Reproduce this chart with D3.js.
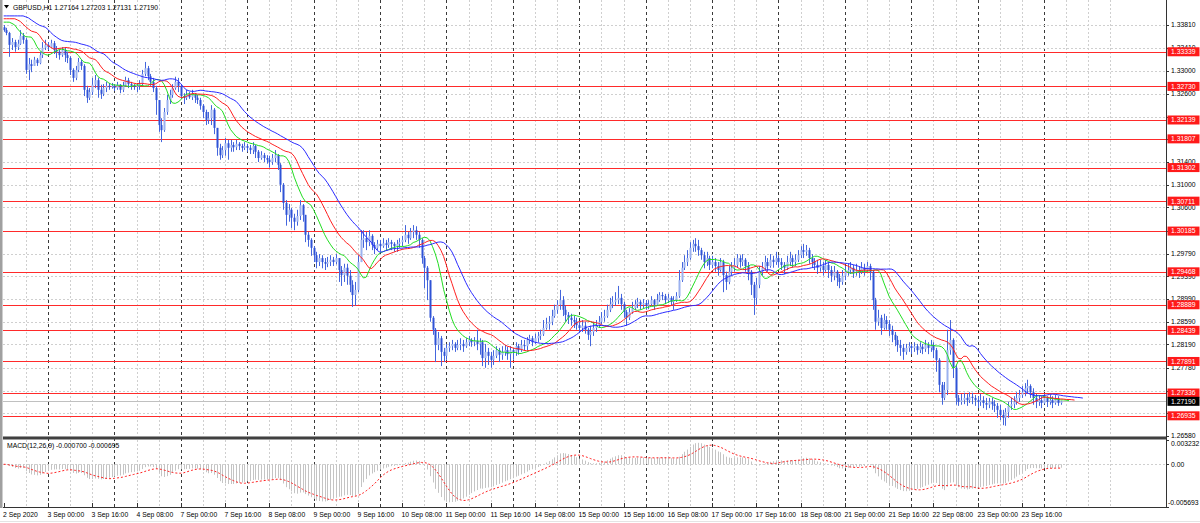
<!DOCTYPE html>
<html><head><meta charset="utf-8">
<script src="https://cdn.jsdelivr.net/npm/d3@7"></script>
<style>
html,body{margin:0;padding:0;background:#fff;}
svg{display:block;font-family:"Liberation Sans",Arial,sans-serif;}
</style></head><body>
<svg id="c" width="1200" height="523"></svg>
<script>
// ---------------- DATA ----------------
const symbol = "GBPUSD,H1";
const headerOHLC = ["1.27164", "1.27203", "1.27131", "1.27190"];
const firstOpen = 1.3377;
const close = [
1.3372,1.3367,1.3346,1.3351,1.3342,1.3348,1.3362,1.3355,1.3302,1.3312,
1.3309,1.3320,1.3314,1.3328,1.3341,1.3346,1.3342,1.3349,1.3337,1.3334,
1.3328,1.3337,1.3328,1.3323,1.3302,1.3288,1.3302,1.3316,1.3309,1.3267,
1.3253,1.3263,1.3276,1.3284,1.3267,1.3260,1.3270,1.3274,1.3272,1.3274,
1.3270,1.3276,1.3267,1.3274,1.3284,1.3277,1.3274,1.3272,1.3274,1.3277,
1.3295,1.3305,1.3291,1.3281,1.3270,1.3249,1.3205,1.3196,1.3228,1.3249,
1.3258,1.3270,1.3281,1.3274,1.3256,1.3253,1.3258,1.3254,1.3260,1.3253,
1.3249,1.3239,1.3228,1.3214,1.3217,1.3232,1.3200,1.3165,1.3152,1.3161,
1.3173,1.3165,1.3170,1.3166,1.3172,1.3168,1.3165,1.3168,1.3165,1.3161,
1.3168,1.3158,1.3147,1.3152,1.3147,1.3144,1.3140,1.3147,1.3152,1.3135,
1.3100,1.3068,1.3047,1.3056,1.3042,1.3035,1.3045,1.3064,1.3047,1.3012,
1.3003,1.2989,1.2976,1.2964,1.2971,1.2964,1.2961,1.2964,1.2968,1.2964,
1.2971,1.2950,1.2941,1.2954,1.2940,1.2924,1.2906,1.2915,1.2964,1.3003,
1.3006,1.2999,1.3010,1.2994,1.2989,1.2996,1.2992,1.2997,1.2994,1.2999,
1.2996,1.2992,1.2996,1.2999,1.3003,1.3012,1.3006,1.3017,1.3020,1.3012,
1.3003,1.2971,1.2954,1.2932,1.2866,1.2845,1.2818,1.2830,1.2806,1.2799,
1.2813,1.2816,1.2820,1.2813,1.2818,1.2820,1.2816,1.2823,1.2827,1.2823,
1.2825,1.2820,1.2823,1.2795,1.2806,1.2799,1.2792,1.2799,1.2809,1.2801,
1.2806,1.2809,1.2802,1.2809,1.2806,1.2816,1.2809,1.2818,1.2816,1.2827,
1.2830,1.2823,1.2830,1.2834,1.2837,1.2848,1.2855,1.2859,1.2869,1.2880,
1.2889,1.2897,1.2880,1.2871,1.2866,1.2862,1.2859,1.2853,1.2848,1.2852,
1.2845,1.2836,1.2841,1.2848,1.2853,1.2859,1.2866,1.2869,1.2880,1.2890,
1.2894,1.2897,1.2901,1.2890,1.2876,1.2866,1.2876,1.2883,1.2890,1.2894,
1.2889,1.2892,1.2887,1.2890,1.2897,1.2889,1.2897,1.2906,1.2904,1.2897,
1.2901,1.2894,1.2897,1.2904,1.2932,1.2954,1.2964,1.2971,1.2989,1.2996,
1.2992,1.2985,1.2976,1.2964,1.2971,1.2959,1.2964,1.2957,1.2950,1.2964,
1.2941,1.2929,1.2947,1.2954,1.2959,1.2971,1.2964,1.2968,1.2957,1.2947,
1.2924,1.2901,1.2924,1.2947,1.2954,1.2964,1.2957,1.2968,1.2964,1.2971,
1.2964,1.2959,1.2954,1.2964,1.2971,1.2964,1.2968,1.2976,1.2985,1.2982,
1.2985,1.2971,1.2964,1.2959,1.2954,1.2957,1.2950,1.2959,1.2950,1.2940,
1.2947,1.2936,1.2929,1.2940,1.2947,1.2950,1.2954,1.2947,1.2950,1.2947,
1.2954,1.2950,1.2957,1.2947,1.2897,1.2859,1.2866,1.2848,1.2862,1.2855,
1.2845,1.2836,1.2827,1.2818,1.2813,1.2806,1.2813,1.2816,1.2813,1.2816,
1.2809,1.2815,1.2811,1.2818,1.2813,1.2818,1.2809,1.2792,1.2748,1.2725,
1.2739,1.2809,1.2827,1.2778,1.2725,1.2718,1.2721,1.2725,1.2721,1.2727,
1.2725,1.2721,1.2718,1.2721,1.2716,1.2713,1.2718,1.2714,1.2711,1.2704,
1.2695,1.2690,1.2700,1.2711,1.2714,1.2718,1.2725,1.2730,1.2735,1.2742,
1.2746,1.2735,1.2725,1.2718,1.2721,1.2716,1.2725,1.2718,1.2721,1.2716,
1.2723,1.2716,1.2719
];
const high = [
1.3381,1.3376,1.3369,1.3358,1.3355,1.3355,1.3372,1.3367,1.3358,1.3323,
1.3320,1.3325,1.3323,1.3334,1.3351,1.3355,1.3351,1.3355,1.3353,1.3344,
1.3337,1.3342,1.3341,1.3334,1.3326,1.3305,1.3309,1.3323,1.3320,1.3312,
1.3274,1.3270,1.3288,1.3293,1.3288,1.3276,1.3277,1.3281,1.3279,1.3279,
1.3277,1.3281,1.3277,1.3281,1.3290,1.3288,1.3281,1.3277,1.3279,1.3284,
1.3302,1.3316,1.3309,1.3295,1.3288,1.3274,1.3249,1.3217,1.3235,1.3258,
1.3267,1.3277,1.3290,1.3288,1.3277,1.3261,1.3267,1.3263,1.3267,1.3261,
1.3258,1.3253,1.3242,1.3232,1.3228,1.3240,1.3235,1.3200,1.3172,1.3168,
1.3182,1.3179,1.3179,1.3175,1.3179,1.3175,1.3172,1.3175,1.3172,1.3170,
1.3175,1.3170,1.3161,1.3159,1.3156,1.3152,1.3151,1.3154,1.3161,1.3154,
1.3138,1.3103,1.3073,1.3066,1.3059,1.3049,1.3056,1.3073,1.3066,1.3047,
1.3017,1.3006,1.2992,1.2982,1.2978,1.2976,1.2971,1.2973,1.2976,1.2973,
1.2978,1.2971,1.2957,1.2961,1.2961,1.2950,1.2932,1.2929,1.2976,1.3020,
1.3020,1.3017,1.3020,1.3013,1.2999,1.3003,1.3003,1.3006,1.3003,1.3006,
1.3003,1.2999,1.3003,1.3006,1.3010,1.3029,1.3017,1.3024,1.3029,1.3027,
1.3017,1.3006,1.2975,1.2957,1.2904,1.2869,1.2848,1.2841,1.2834,1.2813,
1.2820,1.2823,1.2827,1.2823,1.2827,1.2830,1.2827,1.2830,1.2834,1.2830,
1.2832,1.2845,1.2830,1.2827,1.2820,1.2813,1.2806,1.2809,1.2816,1.2813,
1.2816,1.2818,1.2815,1.2816,1.2813,1.2823,1.2820,1.2827,1.2827,1.2832,
1.2836,1.2834,1.2838,1.2841,1.2845,1.2862,1.2866,1.2869,1.2880,1.2889,
1.2897,1.2915,1.2904,1.2887,1.2876,1.2873,1.2869,1.2866,1.2859,1.2862,
1.2859,1.2848,1.2852,1.2859,1.2862,1.2869,1.2876,1.2880,1.2889,1.2901,
1.2904,1.2911,1.2922,1.2908,1.2894,1.2880,1.2883,1.2894,1.2897,1.2901,
1.2897,1.2899,1.2897,1.2897,1.2904,1.2899,1.2908,1.2911,1.2911,1.2908,
1.2908,1.2904,1.2904,1.2911,1.2950,1.2964,1.2976,1.2985,1.2999,1.3003,
1.3006,1.3003,1.2989,1.2982,1.2982,1.2975,1.2975,1.2971,1.2964,1.2971,
1.2968,1.2947,1.2957,1.2964,1.2971,1.2978,1.2976,1.2978,1.2971,1.2964,
1.2950,1.2929,1.2936,1.2957,1.2964,1.2975,1.2971,1.2978,1.2975,1.2982,
1.2976,1.2971,1.2964,1.2975,1.2982,1.2976,1.2978,1.2985,1.2992,1.2996,
1.2994,1.2989,1.2978,1.2971,1.2968,1.2968,1.2964,1.2968,1.2964,1.2957,
1.2957,1.2950,1.2943,1.2950,1.2957,1.2961,1.2964,1.2959,1.2961,1.2957,
1.2964,1.2961,1.2964,1.2961,1.2950,1.2901,1.2880,1.2871,1.2873,1.2869,
1.2862,1.2852,1.2841,1.2834,1.2827,1.2820,1.2820,1.2823,1.2820,1.2823,
1.2820,1.2823,1.2820,1.2827,1.2823,1.2827,1.2823,1.2813,1.2795,1.2753,
1.2753,1.2845,1.2862,1.2830,1.2783,1.2730,1.2732,1.2734,1.2732,1.2735,
1.2734,1.2730,1.2728,1.2732,1.2728,1.2725,1.2725,1.2725,1.2721,1.2716,
1.2713,1.2704,1.2707,1.2718,1.2725,1.2728,1.2735,1.2739,1.2746,1.2751,
1.2757,1.2749,1.2742,1.2732,1.2730,1.2728,1.2732,1.2728,1.2730,1.2728,
1.2730,1.2728,1.2720
];
const low = [
1.3369,1.3363,1.3325,1.3337,1.3334,1.3337,1.3346,1.3348,1.3295,1.3284,
1.3298,1.3309,1.3309,1.3312,1.3323,1.3337,1.3337,1.3341,1.3330,1.3323,
1.3320,1.3325,1.3316,1.3314,1.3293,1.3281,1.3284,1.3298,1.3302,1.3256,
1.3244,1.3249,1.3258,1.3270,1.3253,1.3251,1.3256,1.3263,1.3267,1.3269,
1.3265,1.3267,1.3261,1.3263,1.3272,1.3270,1.3267,1.3267,1.3263,1.3267,
1.3274,1.3291,1.3284,1.3274,1.3263,1.3223,1.3193,1.3175,1.3193,1.3223,
1.3242,1.3253,1.3267,1.3263,1.3251,1.3242,1.3249,1.3251,1.3249,1.3244,
1.3242,1.3232,1.3217,1.3205,1.3207,1.3205,1.3189,1.3151,1.3144,1.3147,
1.3151,1.3144,1.3158,1.3158,1.3161,1.3161,1.3158,1.3161,1.3158,1.3154,
1.3154,1.3147,1.3140,1.3144,1.3140,1.3137,1.3130,1.3135,1.3140,1.3126,
1.3087,1.3056,1.3028,1.3035,1.3024,1.3020,1.3028,1.3038,1.3035,1.2999,
1.2991,1.2975,1.2964,1.2953,1.2957,1.2953,1.2950,1.2955,1.2957,1.2957,
1.2960,1.2929,1.2922,1.2929,1.2924,1.2911,1.2885,1.2887,1.2911,1.2964,
1.2989,1.2985,1.2992,1.2985,1.2978,1.2985,1.2982,1.2989,1.2985,1.2989,
1.2985,1.2982,1.2982,1.2989,1.2992,1.2999,1.2996,1.3003,1.3006,1.3003,
1.2989,1.2961,1.2918,1.2897,1.2859,1.2836,1.2788,1.2809,1.2781,1.2788,
1.2792,1.2806,1.2809,1.2806,1.2809,1.2809,1.2806,1.2813,1.2816,1.2815,
1.2816,1.2809,1.2801,1.2781,1.2778,1.2783,1.2778,1.2783,1.2795,1.2788,
1.2792,1.2799,1.2792,1.2778,1.2792,1.2799,1.2801,1.2806,1.2809,1.2809,
1.2820,1.2816,1.2820,1.2823,1.2827,1.2834,1.2845,1.2845,1.2853,1.2866,
1.2873,1.2880,1.2869,1.2859,1.2855,1.2852,1.2848,1.2845,1.2839,1.2841,
1.2838,1.2827,1.2816,1.2834,1.2841,1.2848,1.2855,1.2859,1.2866,1.2876,
1.2883,1.2887,1.2890,1.2880,1.2866,1.2852,1.2862,1.2873,1.2880,1.2883,
1.2880,1.2883,1.2880,1.2881,1.2887,1.2880,1.2887,1.2894,1.2897,1.2890,
1.2892,1.2887,1.2880,1.2894,1.2901,1.2929,1.2950,1.2957,1.2968,1.2982,
1.2982,1.2975,1.2968,1.2953,1.2957,1.2950,1.2953,1.2947,1.2940,1.2947,
1.2911,1.2915,1.2925,1.2940,1.2947,1.2954,1.2954,1.2957,1.2947,1.2932,
1.2906,1.2871,1.2889,1.2918,1.2940,1.2950,1.2947,1.2954,1.2954,1.2959,
1.2954,1.2950,1.2943,1.2950,1.2957,1.2954,1.2957,1.2964,1.2971,1.2971,
1.2975,1.2961,1.2954,1.2950,1.2943,1.2947,1.2940,1.2947,1.2936,1.2929,
1.2932,1.2922,1.2918,1.2924,1.2932,1.2940,1.2943,1.2936,1.2940,1.2936,
1.2943,1.2940,1.2947,1.2932,1.2880,1.2845,1.2852,1.2836,1.2845,1.2845,
1.2834,1.2823,1.2816,1.2806,1.2799,1.2792,1.2801,1.2806,1.2802,1.2806,
1.2801,1.2804,1.2802,1.2806,1.2802,1.2806,1.2795,1.2771,1.2735,1.2713,
1.2721,1.2730,1.2801,1.2760,1.2713,1.2711,1.2713,1.2714,1.2711,1.2716,
1.2714,1.2711,1.2707,1.2711,1.2707,1.2704,1.2707,1.2704,1.2700,1.2690,
1.2686,1.2677,1.2676,1.2690,1.2704,1.2707,1.2713,1.2718,1.2725,1.2728,
1.2732,1.2725,1.2713,1.2707,1.2711,1.2707,1.2714,1.2709,1.2713,1.2707,
1.2713,1.2711,1.2713
];
const priceTicks = ["1.33810","1.33410","1.33000","1.32600","1.32190","1.31800","1.31400","1.31000","1.30600","1.30190","1.29790","1.29390","1.28990","1.28590","1.28190","1.27780","1.27380","1.26980","1.26580"];
const levels = [1.33339, 1.32730, 1.32139, 1.31807, 1.31302, 1.30711, 1.30185, 1.29468, 1.28889, 1.28439, 1.27891, 1.27336, 1.26935];
const levelLabels = ["1.33339","1.32730","1.32139","1.31807","1.31302","1.30711","1.30185","1.29468","1.28889","1.28439","1.27891","1.27336","1.26935"];
const currentPrice = 1.27190;
const currentLabel = "1.27190";
const timeLabels = ["2 Sep 2020","3 Sep 00:00","3 Sep 16:00","4 Sep 08:00","7 Sep 00:00","7 Sep 16:00","8 Sep 08:00","9 Sep 00:00","9 Sep 16:00","10 Sep 08:00","11 Sep 00:00","11 Sep 16:00","14 Sep 08:00","15 Sep 00:00","15 Sep 16:00","16 Sep 08:00","17 Sep 00:00","17 Sep 16:00","18 Sep 08:00","21 Sep 00:00","21 Sep 16:00","22 Sep 08:00","23 Sep 00:00","23 Sep 16:00"];
const timeLabelBars = [0,16,32,48,64,80,96,112,128,144,160,176,192,208,224,240,256,272,288,304,320,336,352,368];
const daySeparatorBars = [16,40,64,88,112,136,160,184,208,232,256,280,304,328,352,376];
const macdTickLabels = ["0.003232","0.00","-0.005693"];
const macdTickValues = [0.003232, 0, -0.005693];
const macdTitle = "MACD(12,26,9) -0.000700 -0.000695";
// Alligator start values read at the left edge (jaw, teeth, lips)
const alligatorSeed = [1.3397, 1.3392, 1.3386];
const alligatorPeriods = [13, 8, 5];
const alligatorShifts = [8, 5, 3];
const alligatorColors = ["#2b2bff", "#ff2020", "#22dd22"];

// ---------------- LAYOUT ----------------
const svg = d3.select("#c");
const N = Math.min(close.length, high.length, low.length);
const plotL = 3, plotR = 1166, priceBot = 436, macdTop = 440, macdBot = 507;
const x = d3.scaleLinear().domain([0, 382]).range([3.7, 3.7 + 382 * 2.767]);
const y = d3.scaleLinear().domain([1.26580, 1.33810]).range([436, 25]);
const ym = d3.scaleLinear().domain([-0.005693, 0.003232]).range([macdBot, macdTop]);

const bars = [];
for (let i = 0; i < N; i++) {
  const o = i === 0 ? firstOpen : close[i - 1];
  const c = close[i];
  bars.push({i, o, c, h: Math.max(high[i], o, c), l: Math.min(low[i], o, c)});
}

const defs = svg.append("defs");
defs.append("clipPath").attr("id", "cp").append("rect").attr("x", plotL).attr("y", 0).attr("width", plotR - plotL).attr("height", priceBot);
defs.append("clipPath").attr("id", "cm").append("rect").attr("x", plotL).attr("y", macdTop).attr("width", plotR - plotL).attr("height", macdBot - macdTop);

svg.append("rect").attr("width", 1200).attr("height", 523).attr("fill", "#fff");

// Vertical grid
const gv = svg.append("g");
for (let b = 8; b <= 400; b += 8) {
  const xx = Math.round(x(b)) + 0.5;
  if (xx > plotR) break;
  const isDay = daySeparatorBars.includes(b);
  gv.append("line").attr("x1", xx).attr("x2", xx).attr("y1", 0).attr("y2", macdBot)
    .attr("stroke", isDay ? "#3a3a3a" : "#cfcfcf").attr("stroke-width", 1)
    .attr("stroke-dasharray", isDay ? "3,3" : "2,2");
}
// Horizontal grid (price)
priceTicks.forEach(t => {
  const yy = Math.round(y(+t)) + 0.5;
  gv.append("line").attr("x1", plotL).attr("x2", plotR).attr("y1", yy).attr("y2", yy)
    .attr("stroke", "#cfcfcf").attr("stroke-dasharray", "2,2");
});
// MACD zero grid
gv.append("line").attr("x1", plotL).attr("x2", plotR).attr("y1", Math.round(ym(0)) + 0.5).attr("y2", Math.round(ym(0)) + 0.5)
  .attr("stroke", "#cfcfcf").attr("stroke-dasharray", "2,2");

// Level lines
const gl = svg.append("g");
levels.forEach(v => {
  const yy = Math.round(y(v)) + 0.5;
  gl.append("line").attr("x1", plotL).attr("x2", plotR).attr("y1", yy).attr("y2", yy)
    .attr("stroke", "#ff2a2a").attr("stroke-width", 1);
});
// current price line
{
  const yy = Math.round(y(currentPrice)) + 0.5;
  gl.append("line").attr("x1", plotL).attr("x2", plotR).attr("y1", yy).attr("y2", yy)
    .attr("stroke", "#c0c0c0").attr("stroke-width", 1);
}

// Candles
const gc = svg.append("g").attr("clip-path", "url(#cp)");
gc.selectAll("line.w").data(bars).join("line")
  .attr("x1", d => Math.round(x(d.i)) + 0.5).attr("x2", d => Math.round(x(d.i)) + 0.5)
  .attr("y1", d => y(d.h)).attr("y2", d => y(d.l))
  .attr("stroke", "#4466dd").attr("stroke-width", 1);
gc.selectAll("rect.b").data(bars).join("rect")
  .attr("x", d => Math.round(x(d.i)) - 0.5).attr("width", 2)
  .attr("y", d => y(Math.max(d.o, d.c)))
  .attr("height", d => Math.max(1, Math.abs(y(d.o) - y(d.c))))
  .attr("fill", d => d.c >= d.o ? "#9cb2ef" : "#2f53d6");

// Alligator (SMMA of median price, shifted forward)
const median = bars.map(d => (d.h + d.l) / 2);
const ga = svg.append("g").attr("clip-path", "url(#cp)");
[2, 1, 0].forEach(k => {
  const per = alligatorPeriods[k], sh = alligatorShifts[k];
  let s = alligatorSeed[k];
  const pts = [];
  for (let p = 0; p < sh; p++) pts.push([p, s]);
  median.forEach((m, i) => { s = (s * (per - 1) + m) / per; pts.push([i + sh, s]); });
  ga.append("path").attr("d", d3.line().x(d => x(d[0])).y(d => y(d[1]))(pts))
    .attr("fill", "none").attr("stroke", alligatorColors[k]).attr("stroke-width", 1);
});

// MACD (12,26,9)
const e12a = 2 / 13, e26a = 2 / 27;
let e12 = close[0], e26 = close[0];
const macd = [];
close.slice(0, N).forEach(c => { e12 += e12a * (c - e12); e26 += e26a * (c - e26); macd.push(e12 - e26); });
const signal = macd.map((v, i) => d3.mean(macd.slice(Math.max(0, i - 8), i + 1)));
const gm = svg.append("g").attr("clip-path", "url(#cm)");
gm.selectAll("line.h").data(macd).join("line")
  .attr("x1", (d, i) => Math.round(x(i)) + 0.5).attr("x2", (d, i) => Math.round(x(i)) + 0.5)
  .attr("y1", ym(0)).attr("y2", d => ym(d))
  .attr("stroke", "#c4c4c4").attr("stroke-width", 1);
gm.append("path").attr("d", d3.line().x((d, i) => x(i)).y(d => ym(d))(signal))
  .attr("fill", "none").attr("stroke", "#ff2020").attr("stroke-width", 1).attr("stroke-dasharray", "2,2");

// Panel separator
svg.append("rect").attr("x", plotL).attr("y", 436).attr("width", plotR - plotL + 1).attr("height", 1).attr("fill", "#9a9a9a");
svg.append("rect").attr("x", plotL).attr("y", 437).attr("width", plotR - plotL + 1).attr("height", 2.5).attr("fill", "#404040");

// Axes frame
svg.append("line").attr("x1", plotR + 0.5).attr("x2", plotR + 0.5).attr("y1", 0).attr("y2", macdBot + 1).attr("stroke", "#333");
svg.append("line").attr("x1", plotL).attr("x2", plotR + 1).attr("y1", macdBot + 0.5).attr("y2", macdBot + 0.5).attr("stroke", "#333");
svg.append("rect").attr("x", 0).attr("y", 0).attr("width", 2.5).attr("height", macdBot + 1).attr("fill", "#a0a0a0");
svg.append("line").attr("x1", 0).attr("x2", 1200).attr("y1", 521.5).attr("y2", 521.5).attr("stroke", "#e4e4e4");

const fs = 6.8;
// Price axis ticks (labels fully covered by a level tag are not visible in the original)
const tagged = levels.concat([currentPrice]);
const gy = svg.append("g").attr("font-size", fs);
priceTicks.forEach(t => {
  const yy = y(+t);
  gy.append("line").attr("x1", plotR).attr("x2", plotR + 3).attr("y1", Math.round(yy) + 0.5).attr("y2", Math.round(yy) + 0.5).attr("stroke", "#333");
  const covered = tagged.some(v => Math.abs(y(v) - yy) < 3);
  if (!covered) gy.append("text").attr("x", 1171).attr("y", yy + 2.4).attr("fill", "#000").text(t);
});
// Level labels
levels.forEach((v, k) => {
  const yy = y(v);
  gy.append("rect").attr("x", plotR + 1.5).attr("y", yy - 4.5).attr("width", 32).attr("height", 9).attr("fill", "#ff1a1a");
  gy.append("text").attr("x", 1171).attr("y", yy + 2.4).attr("fill", "#fff").text(levelLabels[k]);
});
{
  const yy = y(currentPrice);
  gy.append("rect").attr("x", plotR + 1.5).attr("y", yy - 4.5).attr("width", 32).attr("height", 9).attr("fill", "#000");
  gy.append("text").attr("x", 1171).attr("y", yy + 2.4).attr("fill", "#fff").text(currentLabel);
}
// MACD axis labels
macdTickLabels.forEach((t, k) => {
  const v = macdTickValues[k];
  let yy = ym(v);
  yy = Math.max(macdTop + 4, Math.min(macdBot - 4, yy));
  gy.append("line").attr("x1", plotR).attr("x2", plotR + 3).attr("y1", Math.round(ym(v)) + 0.5).attr("y2", Math.round(ym(v)) + 0.5).attr("stroke", "#333");
  gy.append("text").attr("x", v < 0 ? 1168 : 1171).attr("y", yy + 2.4).attr("fill", "#000").text(t);
});

// Time axis
const gx = svg.append("g").attr("font-size", fs);
timeLabelBars.forEach((b, k) => {
  const xx = Math.round(x(b)) + 0.5;
  gx.append("line").attr("x1", xx).attr("x2", xx).attr("y1", macdBot - 4).attr("y2", macdBot).attr("stroke", "#333");
  gx.append("text").attr("x", k === 0 ? 3 : xx - 1).attr("y", 517).attr("fill", "#000").text(timeLabels[k]);
});

// Header & MACD title
const gt = svg.append("g").attr("font-size", fs);
gt.append("path").attr("d", "M4,5 L9,5 L6.5,8.5 Z").attr("fill", "#000");
gt.append("text").attr("x", 13).attr("y", 10).attr("fill", "#000").text(symbol + "  " + headerOHLC.join(" "));
gt.append("text").attr("x", 7).attr("y", 447.5).attr("fill", "#000").text(macdTitle);
</script>
</body></html>
